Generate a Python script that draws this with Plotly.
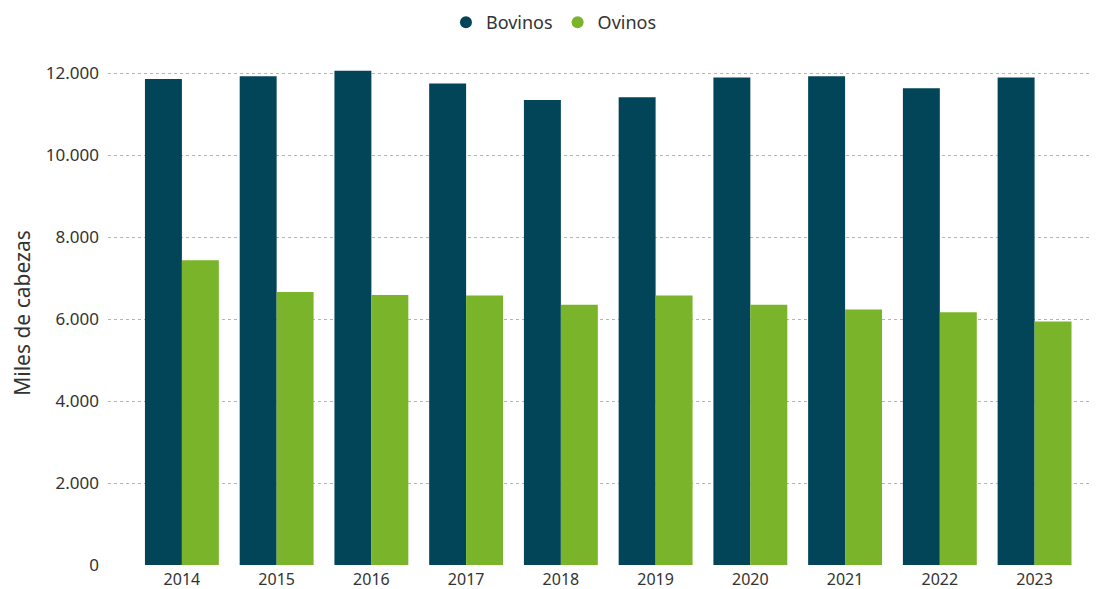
import plotly.graph_objects as go

years = ["2014", "2015", "2016", "2017", "2018", "2019", "2020", "2021", "2022", "2023"]
bovinos = [11860, 11925, 12065, 11750, 11350, 11415, 11895, 11925, 11635, 11895]
ovinos = [7440, 6660, 6590, 6580, 6350, 6580, 6350, 6235, 6170, 5945]
yticks = [0, 2000, 4000, 6000, 8000, 10000, 12000]
yticklabels = ["0", "2.000", "4.000", "6.000", "8.000", "10.000", "12.000"]

c_bov = "#024558"
c_ovi = "#7AB42A"
font_family = "Segoe UI, Noto Sans, Open Sans, sans-serif"

fig = go.Figure()
fig.add_trace(go.Bar(x=years, y=bovinos, name="Bovinos", marker_color=c_bov,
                     showlegend=False, marker_line_width=0))
fig.add_trace(go.Bar(x=years, y=ovinos, name="Ovinos", marker_color=c_ovi,
                     showlegend=False, marker_line_width=0))
# legend entries with circle symbols
fig.add_trace(go.Scatter(x=[None], y=[None], mode="markers", name="Bovinos",
                         marker=dict(color=c_bov, size=10, symbol="circle")))
fig.add_trace(go.Scatter(x=[None], y=[None], mode="markers", name="Ovinos",
                         marker=dict(color=c_ovi, size=10, symbol="circle")))

# page body has an 8px default margin, so the figure is sized/offset to compensate
fig.update_layout(
    width=1091, height=581,
    margin=dict(l=100, r=0, t=53, b=24, autoexpand=False),
    paper_bgcolor="white", plot_bgcolor="white",
    barmode="group", bargap=0.22, bargroupgap=0,
    font=dict(family=font_family, size=16, color="#333333"),
    legend=dict(orientation="h", x=0.45, xanchor="center", y=1.113, yanchor="top",
                yref="paper", font=dict(size=18, color="#333333"),
                itemwidth=30, traceorder="normal",
                itemsizing="constant"),
    showlegend=True,
)

fig.update_xaxes(type="category", range=[-0.78, 9.68], showgrid=False,
                 showline=False, ticks="", tickfont=dict(size=16, color="#333333"),
                 ticklabelstandoff=3, automargin=False, fixedrange=True)
fig.update_yaxes(range=[0, 12300], tickvals=yticks, ticktext=yticklabels,
                 showgrid=True, gridcolor="#b5b5b5", griddash="dot", gridwidth=1,
                 zeroline=False, showline=False, ticks="",
                 tickfont=dict(size=17, color="#333333"),
                 ticklabelstandoff=8, automargin=False,
                 title=dict(text="Miles de cabezas", font=dict(size=21, color="#333333"),
                            standoff=12),
                 fixedrange=True)

fig.write_html("out.html")
